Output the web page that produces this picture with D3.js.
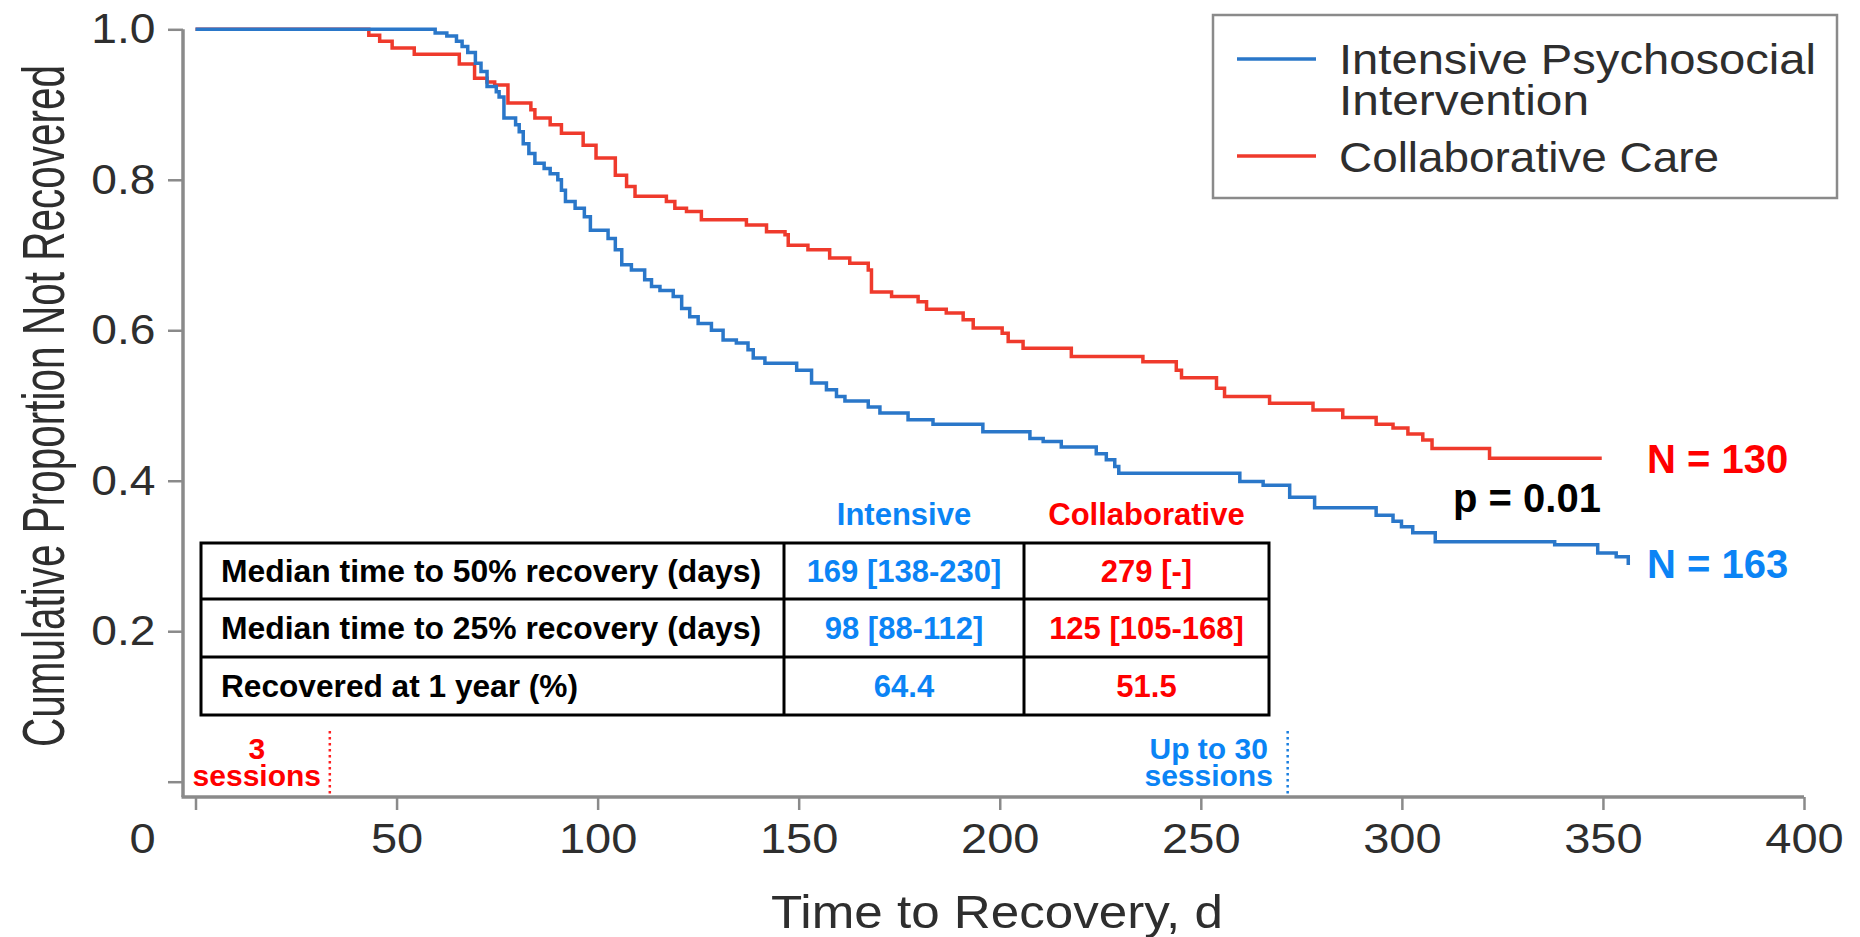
<!DOCTYPE html>
<html>
<head>
<meta charset="utf-8">
<script src="https://cdn.jsdelivr.net/npm/d3@7/dist/d3.min.js"></script>
<style>
  body { margin: 0; background: #fff; }
  text { font-family: "Liberation Sans", Arial, Helvetica, sans-serif; }
</style>
</head>
<body>
<svg id="chart" width="1860" height="937"></svg>
<script>
// Kaplan-Meier steps: [day, proportion not recovered]
const intensiveSteps = [
  [0, 1], [59.6, 0.995], [62.5, 0.991], [64.9, 0.984], [66.3, 0.977], [67.7, 0.969],
  [69.6, 0.955], [71.0, 0.944], [72.5, 0.924], [74.8, 0.917], [75.5, 0.910], [76.7, 0.882],
  [79.6, 0.873], [80.5, 0.864], [81.5, 0.848], [82.9, 0.835], [84.4, 0.822], [86.7, 0.815],
  [88.2, 0.808], [90.1, 0.800], [91.0, 0.786], [92.0, 0.771], [94.4, 0.762], [96.7, 0.751],
  [98.2, 0.733], [102.6, 0.722], [104.4, 0.707], [106.0, 0.687], [108.4, 0.680], [111.7, 0.667],
  [113.4, 0.658], [115.5, 0.653], [118.8, 0.645], [120.9, 0.629], [122.9, 0.618], [125.0, 0.609],
  [128.3, 0.600], [131.2, 0.587], [134.5, 0.583], [137.4, 0.574], [138.7, 0.563], [141.6, 0.556],
  [149.5, 0.547], [153.2, 0.530], [156.9, 0.521], [159.4, 0.512], [161.5, 0.506], [167.3, 0.498],
  [170.2, 0.490], [177.2, 0.481], [183.4, 0.475], [195.8, 0.465], [207.5, 0.456], [210.8, 0.452],
  [215.3, 0.445], [224.0, 0.436], [226.5, 0.428], [228.6, 0.419], [229.6, 0.410], [259.7, 0.399],
  [265.5, 0.394], [272.1, 0.378], [278.3, 0.364], [293.6, 0.354], [297.8, 0.346], [299.9, 0.339],
  [302.7, 0.331], [308.3, 0.319], [338.0, 0.315], [348.7, 0.304], [353.3, 0.299], [356.3, 0.288]
];
const collaborativeSteps = [
  [0, 1], [43.1, 0.992], [45.8, 0.984], [48.9, 0.975], [54.4, 0.967], [65.6, 0.954],
  [69.4, 0.935], [72.5, 0.930], [74.4, 0.926], [77.7, 0.902], [83.4, 0.893], [84.4, 0.882],
  [88.2, 0.873], [91.0, 0.862], [96.4, 0.846], [99.6, 0.829], [104.4, 0.806], [107.2, 0.791],
  [109.3, 0.778], [117.1, 0.771], [119.2, 0.762], [122.1, 0.758], [125.8, 0.747], [137.0, 0.740],
  [142.0, 0.731], [146.6, 0.727], [147.4, 0.713], [152.3, 0.707], [157.7, 0.696], [162.7, 0.689],
  [167.3, 0.680], [168.1, 0.651], [173.1, 0.645], [179.7, 0.638], [181.8, 0.628], [186.7, 0.623],
  [190.9, 0.614], [193.4, 0.603], [200.6, 0.596], [202.1, 0.585], [205.8, 0.576], [217.8, 0.565],
  [235.6, 0.558], [243.9, 0.547], [245.2, 0.537], [253.9, 0.523], [255.9, 0.512], [267.1, 0.503],
  [277.9, 0.494], [285.3, 0.484], [293.6, 0.475], [297.8, 0.470], [301.5, 0.462], [305.2, 0.454],
  [307.5, 0.443], [321.8, 0.430], [349.7, 0.430]
];

const xTicks = [0, 50, 100, 150, 200, 250, 300, 350, 400];
const yTicks = [0, 0.2, 0.4, 0.6, 0.8, 1.0];
const xTitle = "Time to Recovery, d";
const yTitle = "Cumulative Proportion Not Recovered";

const legendLabels = [["Intensive Psychosocial", "Intervention"], ["Collaborative Care"]];
const groupSizes = [163, 130];
const pValue = "p = 0.01";

const tableHeaders = ["Intensive", "Collaborative"];
const tableRowLabels = [
  "Median time to 50% recovery (days)",
  "Median time to 25% recovery (days)",
  "Recovered at 1 year (%)"
];
const intensiveStats = ["169 [138-230]", "98 [88-112]", "64.4"];
const collaborativeStats = ["279 [-]", "125 [105-168]", "51.5"];

const sessionDays = [33.4, 271.6];
const sessionLabels = [["3", "sessions"], ["Up to 30", "sessions"]];

const BLUE_LINE = "#2a77c9", RED_LINE = "#ef3a2c";
const BLUE_TEXT = "#0b84f5", RED_TEXT = "#ff0000";
const AXIS = "#8a8a8a", GREY_TEXT = "#2e2e2e";

const svg = d3.select("#chart");
svg.append("rect").attr("width", 1860).attr("height", 937).attr("fill", "#fff");

const x = d3.scaleLinear().domain([0, 400]).range([195.5, 1804]);
const y = d3.scaleLinear().domain([0, 1]).range([781.7, 29.3]);

// axes (offset from the plotting origin like the original)
const xAxisY = 797, yAxisX = 183;

const xAxis = svg.append("g")
  .attr("transform", `translate(0,${xAxisY})`)
  .call(d3.axisBottom(x).tickValues(xTicks).tickSize(13).tickSizeOuter(0).tickPadding(13))
xAxis.select(".domain").remove()
xAxis.selectAll(".tick line").attr("stroke", AXIS).attr("stroke-width", 2.5)
xAxis.selectAll(".tick text")
  .attr("fill", GREY_TEXT)
  .style("font-size", "42px")
  .attr("transform", "scale(1.12,1)")
  .attr("x", d => d === 0 ? -47.8 : 0)

const yAxis = svg.append("g")
  .attr("transform", `translate(${yAxisX},0)`)
  .call(d3.axisLeft(y).tickValues(yTicks).tickSize(15).tickSizeOuter(0).tickPadding(10)
    .tickFormat(d => d === 0 ? "" : d.toFixed(1)))
yAxis.select(".domain").remove()
yAxis.selectAll(".tick line").attr("stroke", AXIS).attr("stroke-width", 2.5)
yAxis.selectAll(".tick text")
  .attr("fill", GREY_TEXT)
  .style("font-size", "42px")
  .attr("transform", "scale(1.1,1)")

svg.append("line")
  .attr("x1", yAxisX).attr("x2", yAxisX)
  .attr("y1", y(1)).attr("y2", xAxisY)
  .attr("stroke", AXIS).attr("stroke-width", 3.5)
svg.append("line")
  .attr("x1", yAxisX - 1.5).attr("x2", x(400))
  .attr("y1", xAxisY).attr("y2", xAxisY)
  .attr("stroke", AXIS).attr("stroke-width", 3.5)

svg.append("text")
  .attr("transform", "translate(64,406) rotate(-90)")
  .attr("text-anchor", "middle")
  .attr("fill", GREY_TEXT)
  .attr("textLength", 682)
  .attr("lengthAdjust", "spacingAndGlyphs")
  .style("font-size", "60px")
  .text(yTitle)

svg.append("text")
  .attr("x", 771).attr("y", 928)
  .attr("fill", GREY_TEXT)
  .attr("textLength", 452)
  .attr("lengthAdjust", "spacingAndGlyphs")
  .style("font-size", "47px")
  .text(xTitle)

// survival curves
const line = d3.line()
  .x(d => x(d[0]))
  .y(d => y(d[1]))
  .curve(d3.curveStepAfter)

svg.append("path")
  .datum(collaborativeSteps)
  .attr("d", line)
  .attr("fill", "none")
  .attr("stroke", RED_LINE)
  .attr("stroke-width", 3.5)

svg.append("path")
  .datum(intensiveSteps)
  .attr("d", line)
  .attr("fill", "none")
  .attr("stroke", BLUE_LINE)
  .attr("stroke-width", 3.5)

// legend
const legend = svg.append("g")
legend.append("rect")
  .attr("x", 1213).attr("y", 15).attr("width", 624).attr("height", 183)
  .attr("fill", "#fff").attr("stroke", AXIS).attr("stroke-width", 2.5)

const legendLineY = [59, 156];
const legendBaselines = [[74, 115], [172]];
const legendLengths = [[477, 250], [380]];
[BLUE_LINE, RED_LINE].forEach((c, i) => {
  legend.append("line")
    .attr("x1", 1237).attr("x2", 1316)
    .attr("y1", legendLineY[i]).attr("y2", legendLineY[i])
    .attr("stroke", c).attr("stroke-width", 3.5)
  legendLabels[i].forEach((t, j) => {
    legend.append("text")
      .attr("x", 1339).attr("y", legendBaselines[i][j])
      .attr("fill", GREY_TEXT)
      .attr("textLength", legendLengths[i][j])
      .attr("lengthAdjust", "spacingAndGlyphs")
      .style("font-size", "42px")
      .text(t)
  })
})

// end-of-curve annotations
svg.append("text")
  .attr("x", 1647).attr("y", 473)
  .attr("fill", RED_TEXT)
  .style("font-size", "40px").style("font-weight", "bold")
  .text(`N = ${groupSizes[1]}`)
svg.append("text")
  .attr("x", 1647).attr("y", 578)
  .attr("fill", BLUE_TEXT)
  .style("font-size", "40px").style("font-weight", "bold")
  .text(`N = ${groupSizes[0]}`)
svg.append("text")
  .attr("x", 1527).attr("y", 512)
  .attr("text-anchor", "middle")
  .attr("fill", "#000")
  .style("font-size", "40px").style("font-weight", "bold")
  .text(pValue)

// stats table
const colX = [201, 784, 1024, 1269];
const rowY = [543, 599, 657, 715];
const table = svg.append("g")
table.append("rect")
  .attr("x", colX[0]).attr("y", rowY[0])
  .attr("width", colX[3] - colX[0]).attr("height", rowY[3] - rowY[0])
  .attr("fill", "#fff").attr("stroke", "#000").attr("stroke-width", 3)
colX.slice(1, 3).forEach(cx => {
  table.append("line").attr("x1", cx).attr("x2", cx).attr("y1", rowY[0]).attr("y2", rowY[3])
    .attr("stroke", "#000").attr("stroke-width", 3)
})
rowY.slice(1, 3).forEach(ry => {
  table.append("line").attr("x1", colX[0]).attr("x2", colX[3]).attr("y1", ry).attr("y2", ry)
    .attr("stroke", "#000").attr("stroke-width", 3)
})

const headerColors = [BLUE_TEXT, RED_TEXT];
tableHeaders.forEach((h, i) => {
  table.append("text")
    .attr("x", (colX[i + 1] + colX[i + 2]) / 2).attr("y", 525)
    .attr("text-anchor", "middle")
    .attr("fill", headerColors[i])
    .style("font-size", "31px").style("font-weight", "bold")
    .text(h)
})

const labelLengths = [540, 540, 357];
tableRowLabels.forEach((label, r) => {
  const baseline = (rowY[r] + rowY[r + 1]) / 2 + 11
  table.append("text")
    .attr("x", colX[0] + 20).attr("y", baseline)
    .attr("fill", "#000")
    .attr("textLength", labelLengths[r])
    .attr("lengthAdjust", "spacingAndGlyphs")
    .style("font-size", "31px").style("font-weight", "bold")
    .text(label)
  ;[intensiveStats, collaborativeStats].forEach((vals, i) => {
    table.append("text")
      .attr("x", (colX[i + 1] + colX[i + 2]) / 2).attr("y", baseline)
      .attr("text-anchor", "middle")
      .attr("fill", headerColors[i])
      .style("font-size", "31px").style("font-weight", "bold")
      .text(vals[r])
  })
})

// session limit markers
const sessionColors = [RED_TEXT, BLUE_TEXT];
const sessionLineColors = ["#ff2020", "#1a7fe0"];
const sessionOffsets = [73, 79];
sessionDays.forEach((day, i) => {
  const lx = x(day)
  svg.append("line")
    .attr("x1", lx).attr("x2", lx)
    .attr("y1", 731).attr("y2", 795)
    .attr("stroke", sessionLineColors[i]).attr("stroke-width", 2.5)
    .attr("stroke-dasharray", "2.5,3.5")
  sessionLabels[i].forEach((t, j) => {
    svg.append("text")
      .attr("x", lx - sessionOffsets[i]).attr("y", j === 0 ? 759 : 786)
      .attr("text-anchor", "middle")
      .attr("fill", sessionColors[i])
      .style("font-size", "30px").style("font-weight", "bold")
      .text(t)
  })
})
</script>
</body>
</html>
